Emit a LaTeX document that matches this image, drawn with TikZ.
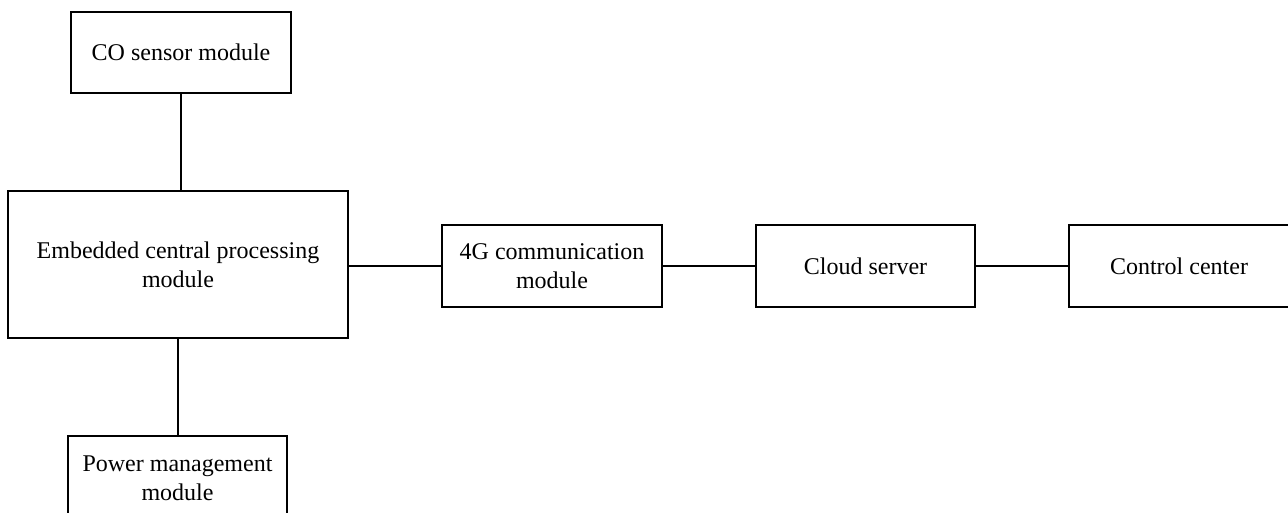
\documentclass[tikz,border=0pt]{standalone}
\usepackage{fontspec}
\setmainfont{Liberation Serif}
\begin{document}
\begin{tikzpicture}[x=1pt,y=-1pt,
  box/.style={draw=black, line width=1.1pt, fill=white, align=center, inner sep=0pt,
    font=\fontsize{24}{29}\selectfont},
  link/.style={draw=black, line width=2pt}]
\useasboundingbox (0,0) rectangle (1288,513);
\clip (0,0) rectangle (1288,513);
\node[box, minimum width=220pt, minimum height=81pt] (co) at (181,52.5) {CO sensor module};
\node[box, line width=1.6pt, minimum width=340pt, minimum height=147pt] (emb) at (178,264.5) {Embedded central processing\\module};
\node[box, minimum width=219pt, minimum height=84pt] (pw) at (177.5,478) {Power management\\module};
\node[box, minimum width=220pt, minimum height=82pt] (g4) at (552,266) {4G communication\\module};
\node[box, minimum width=219pt, minimum height=82pt] (cloud) at (865.5,266) {Cloud server};
\node[box, minimum width=220pt, minimum height=82pt] (ctrl) at (1179,266) {Control center};
\draw[link] (co.south) -- (co.south |- emb.north);
\draw[link] (emb.south) -- (emb.south |- pw.north);
\draw[link] (g4.west -| emb.east) -- (g4.west);
\draw[link] (g4.east) -- (cloud.west);
\draw[link] (cloud.east) -- (ctrl.west);
\end{tikzpicture}
\end{document}
